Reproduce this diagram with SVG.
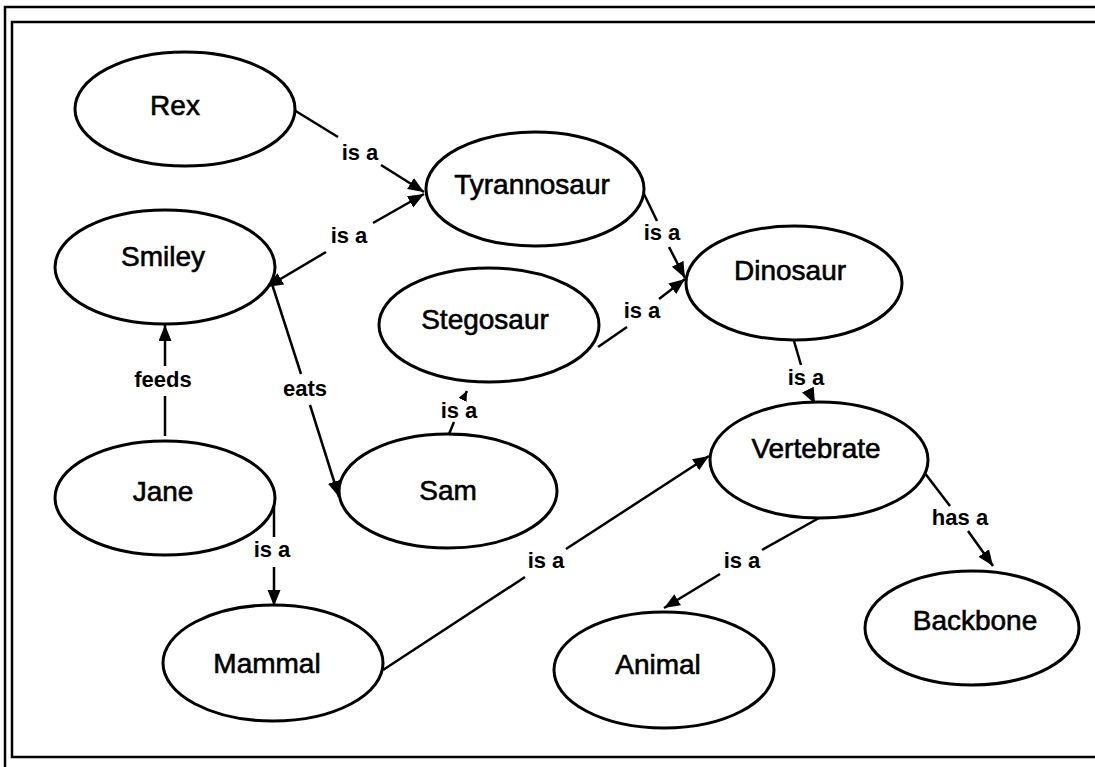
<svg xmlns="http://www.w3.org/2000/svg" width="1095" height="767" viewBox="0 0 1095 767">
<style>
.frame{fill:none;stroke:#000;stroke-width:2.5}
.node ellipse{fill:#fff;stroke:#000;stroke-width:3}
.node text{font-family:"Liberation Sans",Arial,sans-serif;font-size:28px;fill:#000;stroke:#000;stroke-width:0.6;text-anchor:middle}
.edge{fill:none;stroke:#000;stroke-width:2.5}
.lbl{font-family:"Liberation Sans",Arial,sans-serif;font-size:22px;font-weight:bold;fill:#000;text-anchor:middle}
</style>
<defs>
<marker id="arr" markerUnits="userSpaceOnUse" markerWidth="18" markerHeight="14" refX="16" refY="6.5" orient="auto-start-reverse">
<path d="M0,0 L16,6.5 L0,13 Z" fill="#000"/>
</marker>
<marker id="arrs" markerUnits="userSpaceOnUse" markerWidth="12" markerHeight="10" refX="10" refY="4.5" orient="auto">
<path d="M0,0 L10,4.5 L0,9 Z" fill="#000"/>
</marker>
</defs>
<rect width="1095" height="767" fill="#fff"/>
<g id="frame">
<path class="frame" d="M1095,7 L5,7 L5,767"/>
<path class="frame" d="M1095,22 L12,22 L12,757 L1095,757"/>
</g>
<g id="connectors">
<path class="edge" d="M294,110 L338,137"/>
<path class="edge" d="M381,165 L424,192" marker-end="url(#arr)"/>
<path class="edge" d="M267,287 L326,252" marker-start="url(#arr)"/>
<path class="edge" d="M373,223 L424,194" marker-end="url(#arr)"/>
<path class="edge" d="M644,194 L657,221"/>
<path class="edge" d="M669,247 L685,278" marker-end="url(#arr)"/>
<path class="edge" d="M598,347 L627,327"/>
<path class="edge" d="M659,299 L685,279" marker-end="url(#arr)"/>
<path class="edge" d="M794,341 L801,365"/>
<path class="edge" d="M809,392 L815,404" marker-end="url(#arr)"/>
<path class="edge" d="M449,434 L454,422"/>
<path class="edge" d="M464,397 L467,391" marker-end="url(#arrs)"/>
<path class="edge" d="M165,436 L165,396"/>
<path class="edge" d="M165,366 L165,325" marker-end="url(#arr)"/>
<path class="edge" d="M272,284 L301,374"/>
<path class="edge" d="M310,405 L339,497" marker-end="url(#arr)"/>
<path class="edge" d="M274,505 L274,537"/>
<path class="edge" d="M274,567 L274,606" marker-end="url(#arr)"/>
<path class="edge" d="M383,670 L525,577"/>
<path class="edge" d="M566,549 L709,456" marker-end="url(#arr)"/>
<path class="edge" d="M819,518 L762,550"/>
<path class="edge" d="M720,574 L664,608" marker-end="url(#arr)"/>
<path class="edge" d="M924,472 L950,506"/>
<path class="edge" d="M968,531 L993,566" marker-end="url(#arr)"/>
<text class="lbl" x="360" y="160">is a</text>
<text class="lbl" x="349" y="243">is a</text>
<text class="lbl" x="662" y="240">is a</text>
<text class="lbl" x="642" y="318">is a</text>
<text class="lbl" x="806" y="385">is a</text>
<text class="lbl" x="459" y="418">is a</text>
<text class="lbl" x="163" y="387">feeds</text>
<text class="lbl" x="305" y="396">eats</text>
<text class="lbl" x="272" y="557">is a</text>
<text class="lbl" x="546" y="568">is a</text>
<text class="lbl" x="742" y="568">is a</text>
<text class="lbl" x="960" y="525">has a</text>
</g>
<g id="node-rex" class="node"><ellipse cx="185" cy="109" rx="110" ry="57"/><text x="175" y="115">Rex</text></g>
<g id="node-tyrannosaur" class="node"><ellipse cx="535" cy="189" rx="109" ry="57"/><text x="532" y="194">Tyrannosaur</text></g>
<g id="node-smiley" class="node"><ellipse cx="165" cy="267" rx="110" ry="57"/><text x="163" y="266">Smiley</text></g>
<g id="node-dinosaur" class="node"><ellipse cx="794" cy="283" rx="108" ry="57"/><text x="790" y="280">Dinosaur</text></g>
<g id="node-stegosaur" class="node"><ellipse cx="489" cy="325" rx="110" ry="57"/><text x="485" y="329">Stegosaur</text></g>
<g id="node-vertebrate" class="node"><ellipse cx="819" cy="460" rx="109" ry="58"/><text x="816" y="458">Vertebrate</text></g>
<g id="node-jane" class="node"><ellipse cx="165" cy="498" rx="110" ry="57"/><text x="163" y="501">Jane</text></g>
<g id="node-sam" class="node"><ellipse cx="448" cy="491" rx="109" ry="57"/><text x="448" y="500">Sam</text></g>
<g id="node-backbone" class="node"><ellipse cx="972" cy="628" rx="107" ry="57"/><text x="975" y="630">Backbone</text></g>
<g id="node-mammal" class="node"><ellipse cx="273" cy="663" rx="110" ry="58"/><text x="267" y="673">Mammal</text></g>
<g id="node-animal" class="node"><ellipse cx="664" cy="670" rx="110" ry="58"/><text x="658" y="674">Animal</text></g>
</svg>
